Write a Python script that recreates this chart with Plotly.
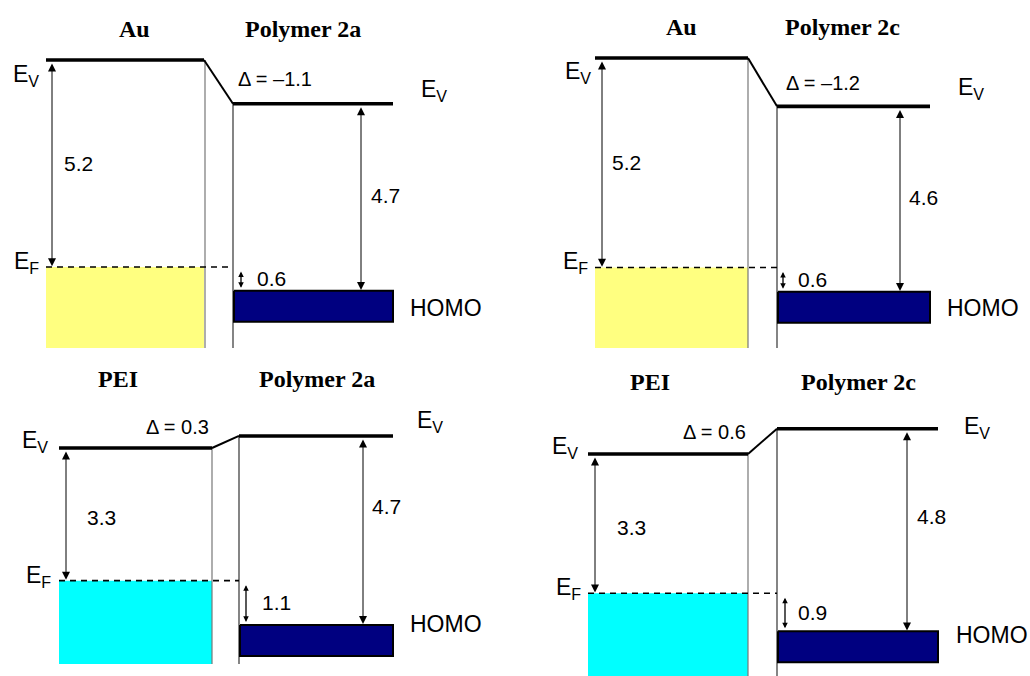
import plotly.graph_objects as go

# ---------------- data ----------------
metal_names = ["Au", "Au", "PEI", "PEI"]
polymer_names = ["Polymer 2a", "Polymer 2c", "Polymer 2a", "Polymer 2c"]
work_function = [5.2, 5.2, 3.3, 3.3]        # Ev(metal) - EF  (eV)
interface_delta = [-1.1, -1.2, 0.3, 0.6]    # vacuum level shift (eV)
polymer_ip = [4.7, 4.6, 4.7, 4.8]           # Ev(polymer) - HOMO (eV)
hole_barrier = [0.6, 0.6, 1.1, 0.9]         # EF - HOMO (eV)
metal_colors = ["#FFFF80", "#FFFF80", "#00FFFF", "#00FFFF"]

# ---------------- layout / style (pixels) ----------------
W, H = 1030, 676
panels = [
    dict(xd=(0, 515), yd=(0, 348), ev_px=60, s=39.8,
         m=(46, 204), p=(233, 393), vm=205, a1=52, a2=361, a3=241,
         t1=134, t2=303, ty=29,
         evl=(41, 15), evr=(419, -13), efl=(41, -4), homo=(408, 2),
         dl=(236, 'left', 19), n1=(62, 0), n2=(369, -2), n3=(255, 0)),
    dict(xd=(515, 1030), yd=(0, 348), ev_px=58, s=40.3,
         m=(595, 748), p=(777, 930), vm=748, a1=602, a2=900, a3=783,
         t1=681, t2=842, ty=27,
         evl=(593, 14), evr=(956, -18), efl=(590, -5), homo=(945, 1),
         dl=(784, 'left', 25), n1=(610, 0), n2=(907, -2), n3=(796, 0)),
    dict(xd=(0, 515), yd=(340, 664), ev_px=448, s=40.2,
         m=(59, 212), p=(239, 393), vm=212, a1=66, a2=363, a3=246,
         t1=118, t2=317, ty=379,
         evl=(50, -7), evr=(415, -14), efl=(53, -4), homo=(408, -16),
         dl=(211, 'right', -21), n1=(85, 3), n2=(370, -24), n3=(260, 0)),
    dict(xd=(515, 1030), yd=(340, 676), ev_px=454, s=42.2,
         m=(588, 748), p=(777, 938), vm=748, a1=595, a2=907, a3=785,
         t1=650, t2=858, ty=382,
         evl=(580, -7), evr=(962, -1), efl=(583, -5), homo=(954, -12),
         dl=(748, 'right', -22), n1=(615, 4), n2=(915, -13), n3=(796, 0)),
]
HOMO_PX = 31
SANS = "Liberation Sans, Arial, sans-serif"
SERIF = "Liberation Serif, Times New Roman, serif"

fig = go.Figure()
annotations = []
layout_axes = {}

for i, P in enumerate(panels):
    k = "" if i == 0 else str(i + 1)
    xr, yr = "x" + k, "y" + k
    s = P["s"]
    # axis ranges in eV so that Ev(metal)=0 sits at ev_px
    ytop = (P["ev_px"] - P["yd"][0]) / s
    ybot = (P["ev_px"] - P["yd"][1]) / s
    layout_axes["xaxis" + k] = dict(domain=[P["xd"][0] / W, P["xd"][1] / W],
                                    range=[P["xd"][0], P["xd"][1]], visible=False,
                                    fixedrange=True, anchor=yr)
    layout_axes["yaxis" + k] = dict(domain=[1 - P["yd"][1] / H, 1 - P["yd"][0] / H],
                                    range=[ybot, ytop], visible=False,
                                    fixedrange=True, anchor=xr)

    ev_m = 0.0
    ef = ev_m - work_function[i]
    ev_p = ev_m + interface_delta[i]
    homo = ev_p - polymer_ip[i]
    homo_bot = homo - HOMO_PX / s
    mx0, mx1 = P["m"]
    px0, px1 = P["p"]

    def add(x, y, **kw):
        fig.add_trace(go.Scatter(x=x, y=y, xaxis=xr, yaxis=yr, mode="lines",
                                 hoverinfo="skip", showlegend=False, **kw))

    # metal filled band (below EF)
    add([mx0, mx1, mx1, mx0, mx0], [ef, ef, ybot, ybot, ef], fill="toself",
        fillcolor=metal_colors[i], line=dict(width=0))
    # vertical interface lines
    add([P["vm"], P["vm"]], [ev_m, ybot], line=dict(color="#777777", width=1.2))
    add([px0, px0], [ev_p, ybot], line=dict(color="#333333", width=1.2))
    # EF dashed
    add([mx0, px0], [ef, ef], line=dict(color="black", width=1.6, dash="6px,5px"))
    # HOMO box
    add([px0 + 1, px1, px1, px0 + 1, px0 + 1], [homo, homo, homo_bot, homo_bot, homo],
        fill="toself", fillcolor="#000080", line=dict(color="black", width=2))
    # vacuum levels
    add([mx1, px0], [ev_m, ev_p], line=dict(color="black", width=2))
    add([mx0, mx1], [ev_m, ev_m], line=dict(color="black", width=3.6))
    add([px0, px1], [ev_p, ev_p], line=dict(color="black", width=3.6))

    # arrows
    def arrow(x, y0, y1, st=0, size=1.6, w=1):
        annotations.append(dict(x=x, y=y1, ax=x, ay=y0, xref=xr, yref=yr,
                                axref=xr, ayref=yr, text="", showarrow=True,
                                arrowhead=2, arrowside="end+start", arrowsize=size,
                                arrowwidth=w, arrowcolor="black",
                                standoff=st, startstandoff=st))
    arrow(P["a1"], ev_m - 0.05, ef + 0.02)
    arrow(P["a2"], ev_p - 0.05, homo + 0.02)
    arrow(P["a3"], ef, homo, st=3, size=0.85, w=1.3)

    def text(x, y, t, size, xanchor="left", yshift=0, family=SANS, yanchor="middle"):
        annotations.append(dict(x=x, y=y, xref=xr, yref=yr, text=t, showarrow=False,
                                xanchor=xanchor, yanchor=yanchor, yshift=yshift,
                                font=dict(family=family, size=size, color="black")))

    # numbers
    text(P["n1"][0], (ev_m + ef) / 2, f"{work_function[i]:.1f}", 21, yshift=-P["n1"][1])
    text(P["n2"][0], (ev_p + homo) / 2, f"{polymer_ip[i]:.1f}", 21, yshift=-P["n2"][1])
    text(P["n3"][0], (ef + homo) / 2, f"{hole_barrier[i]:.1f}", 21, yshift=-P["n3"][1])
    # delta
    d = interface_delta[i]
    dtxt = "\u0394 = " + (f"\u2013{abs(d):.1f}" if d < 0 else f"{d:.1f}")
    text(P["dl"][0], ev_m, dtxt, 20, xanchor=P["dl"][1], yshift=-P["dl"][2])
    # level labels
    text(P["evl"][0], ev_m, "E<sub>V</sub>", 23, xanchor="right", yshift=-P["evl"][1])
    text(P["evr"][0], ev_p, "E<sub>V</sub>", 23, xanchor="left", yshift=-P["evr"][1])
    text(P["efl"][0], ef, "E<sub>F</sub>", 23, xanchor="right", yshift=-P["efl"][1])
    text(P["homo"][0], (homo + homo_bot) / 2, "HOMO", 23, yshift=-P["homo"][1])
    # titles (paper coords)
    for tx, name in ((P["t1"], metal_names[i]), (P["t2"], polymer_names[i])):
        annotations.append(dict(x=tx / W, y=1 - P["ty"] / H, xref="paper", yref="paper",
                                text=f"<b>{name}</b>", showarrow=False,
                                xanchor="center", yanchor="middle",
                                font=dict(family=SERIF, size=24, color="black")))

fig.update_layout(width=W, height=H, margin=dict(l=0, r=0, t=0, b=0),
                  paper_bgcolor="white", plot_bgcolor="rgba(0,0,0,0)",
                  showlegend=False, annotations=annotations, **layout_axes)
fig.write_html("out.html", config={"displayModeBar": False},
               post_script="document.body.style.margin='0';document.body.style.overflow='hidden';")
